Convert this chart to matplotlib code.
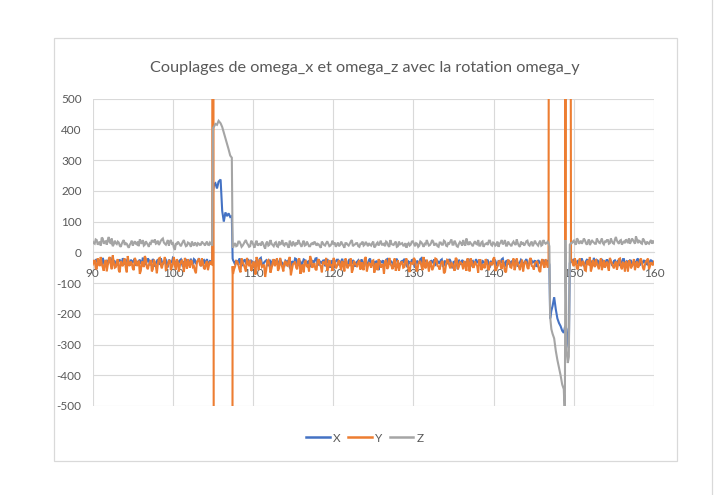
import numpy as np
import matplotlib
matplotlib.use("Agg")
import matplotlib.pyplot as plt
from matplotlib.lines import Line2D
from matplotlib.patches import Rectangle

plt.rcParams['font.family'] = ['Lato', 'DejaVu Sans']
plt.rcParams['axes.unicode_minus'] = False

# ---------------- data ----------------
title = "Couplages de omega_x et omega_z avec la rotation omega_y"
series_names = ["X", "Y", "Z"]
colors = ["#4472C4", "#ED7D31", "#A5A5A5"]

# baseline segments (time ranges); samples on a grid plus in-between samples (*_h)
seg_left = (90.0, 104.75)
seg_mid = (107.5, 146.75)
seg_right = (149.75, 160.0)

# X (omega_x)
x_left = [-28,-35,-22,-40,-30,-18,-45,-25,-33,-20,-38,-29,-42,-26,-31,-19,-36,-27,-44,-24,
          -32,-21,-39,-28,-34,-17,-41,-30,-25,-37,-22,-46,-29,-33,-20,-38,-27,-43,-24,-31,
          -18,-40,-26,-35,-23,-47,-30,-28,-36,-21,-39,-25,-32,-19,-44,-27,-34,-22,-37,-29]
x_left_h = [-33,-27,-36,-24,-41,-29,-31,-38,-22,-35,-27,-44,-30,-25,-39,-28,-33,-21,-37,-30,
            -26,-43,-31,-24,-38,-29,-35,-20,-42,-32,-27,-36,-23,-40,-30,-34,-25,-45,-28,-33,
            -21,-39,-30,-26,-37,-31,-24,-42,-29,-35,-22,-38,-27,-33,-40,-25,-31,-36,-28]
x_mid = [-25,-40,-30,-20,-45,-28,-35,-22,-38,-30,-50,-26,-33,-18,-42,-29,-36,-24,-47,-31,
         -27,-39,-21,-34,-44,-30,-25,-55,-32,-20,-37,-28,-43,-23,-35,-30,-48,-26,-31,-19,
         -40,-33,-27,-45,-22,-36,-29,-52,-30,-24,-38,-21,-34,-42,-28,-32,-25,-46,-30,-37,
         -23,-41,-29,-35,-20,-44,-31,-27,-58,-33,-26,-39,-22,-36,-30,-48,-25,-34,-40,-28,
         -21,-43,-30,-37,-24,-50,-29,-33,-19,-41,-27,-35,-45,-30,-23,-38,-32,-26,-47,-29,
         -36,-22,-40,-31,-27,-55,-34,-25,-39,-30,-21,-44,-28,-35,-33,-24,-42,-30,-37,-26,
         -49,-31,-23,-38,-29,-35,-20,-43,-27,-34,-40,-30,-25,-46,-32,-28,-36,-22,-41,-29,
         -33,-26,-45,-30,-38,-24,-35,-28]
x_mid_h = [-32,-26,-41,-29,-35,-23,-40,-31,-27,-44,-30,-36,-21,-38,-33,-26,-45,-30,-28,-39,
           -24,-35,-31,-42,-27,-33,-48,-29,-36,-22,-40,-30,-34,-25,-43,-28,-37,-32,-20,-41,
           -29,-35,-26,-39,-31,-50,-27,-33,-24,-42,-30,-36,-28,-45,-22,-38,-31,-34,-26,-40,
           -33,-29,-46,-25,-37,-30,-42,-35,-27,-31,-44,-24,-39,-28,-36,-32,-21,-43,-30,-35,
           -27,-48,-33,-25,-40,-30,-36,-22,-38,-31,-29,-45,-26,-34,-41,-28,-37,-23,-42,-30,
           -33,-27,-52,-31,-36,-24,-40,-29,-35,-26,-44,-30,-38,-22,-33,-41,-28,-36,-25,-39,
           -30,-34,-27,-45,-31,-23,-40,-29,-37,-32,-26,-43,-30,-35,-24,-41,-28,-33,-38,-27,
           -31,-44,-25,-36,-30,-40,-33,-27,-42,-29,-35,-22,-39,-31,-26,-37,-30]
x_right = [-30,-22,-40,-28,-35,-20,-45,-30,-25,-38,-32,-18,-42,-27,-36,-24,-48,-30,-33,-21,
           -40,-28,-35,-25,-44,-30,-22,-38,-31,-26,-45,-29,-34,-20,-41,-30,-27,-37,-23,-33,-28,-35]
x_right_h = [-26,-35,-31,-42,-27,-33,-38,-24,-36,-29,-44,-30,-25,-39,-32,-28,-41,-23,-35,-30,
             -37,-26,-43,-31,-34,-22,-40,-29,-36,-27,-38,-33,-24,-42,-30,-35,-28,-39,-31,-26,-34]

# Y (omega_y)
y_left = [-40,-25,-55,-30,-15,-48,-35,-62,-22,-40,-10,-50,-33,-58,-28,-45,-20,-65,-38,-30,
          -52,-18,-44,-27,-60,-35,-12,-48,-40,-25,-55,-32,-68,-20,-42,-36,-15,-50,-28,-58,
          -34,-45,-22,-62,-30,-40,-18,-53,-37,-25,-48,-60,-30,-20,-45,-35,-55,-28,-42,-38]
y_left_h = [-30,-52,-20,-45,-38,-60,-25,-42,-15,-55,-33,-48,-22,-65,-40,-28,-50,-12,-44,-36,
            -58,-26,-40,-70,-30,-48,-20,-55,-35,-62,-24,-45,-38,-18,-52,-30,-60,-40,-25,-47,
            -15,-56,-33,-42,-27,-64,-38,-22,-50,-30,-45,-68,-28,-40,-20,-52,-35,-58,-30]
y_mid = [-70,-45,-30,-55,-20,-40,-62,-35,-25,-50,-38,-15,-58,-30,-45,-80,-28,-40,-52,-22,
         -35,-60,-18,-48,-33,-42,-25,-75,-38,-30,-55,-20,-45,-65,-28,-40,-12,-50,-35,-58,
         -22,-46,-30,-38,-60,-25,-42,-18,-52,-34,-44,-28,-62,-30,-40,-20,-55,-36,-48,-25,
         -32,-58,-15,-45,-38,-28,-66,-35,-22,-50,-40,-30,-54,-18,-44,-36,-60,-26,-42,-32,
         -48,-20,-56,-34,-38,-25,-62,-30,-45,-15,-52,-40,-28,-58,-35,-22,-46,-38,-30,-64,
         -24,-42,-35,-50,-18,-55,-32,-40,-28,-60,-36,-20,-48,-30,-44,-25,-58,-38,-22,-52,
         -34,-42,-16,-56,-30,-45,-26,-62,-38,-28,-50,-20,-44,-35,-58,-24,-40,-32,-54,-18,
         -46,-36,-28,-60,-30,-42,-22,-50]
y_mid_h = [-55,-28,-40,-65,-32,-50,-18,-45,-60,-30,-72,-35,-22,-48,-40,-58,-25,-66,-34,-45,
           -20,-52,-38,-62,-28,-44,-15,-56,-36,-50,-24,-70,-40,-30,-48,-62,-22,-44,-55,-28,
           -40,-65,-35,-18,-50,-42,-60,-30,-46,-25,-58,-38,-20,-52,-44,-66,-28,-40,-32,-56,
           -48,-22,-62,-35,-50,-26,-44,-58,-30,-40,-70,-24,-48,-38,-55,-20,-45,-60,-32,-50,
           -28,-42,-64,-36,-18,-54,-40,-30,-58,-46,-24,-62,-35,-50,-20,-44,-56,-30,-68,-40,
           -26,-52,-38,-60,-22,-46,-34,-55,-42,-20,-62,-30,-48,-38,-66,-25,-44,-52,-30,-58,
           -36,-22,-60,-45,-28,-54,-40,-65,-24,-48,-34,-58,-20,-46,-38,-62,-30,-50,-26,-44,
           -56,-32,-40,-64,-22,-50,-36,-58,-28,-45,-18,-60,-38,-30,-52,-42,-34]
y_right = [-25,-45,-30,-55,-20,-40,-35,-60,-28,-15,-50,-38,-22,-45,-32,-58,-25,-40,-48,-18,
           -35,-52,-30,-42,-20,-55,-36,-28,-62,-30,-45,-22,-40,-50,-25,-35,-58,-30,-20,-45,-38,-30]
y_right_h = [-38,-20,-52,-35,-45,-28,-58,-30,-42,-62,-25,-48,-36,-55,-20,-40,-50,-30,-60,-28,
             -45,-38,-56,-22,-48,-34,-62,-40,-26,-52,-35,-58,-30,-44,-20,-50,-40,-25,-55,-32,-42]

# Z (omega_z)
z_left = [35,28,40,30,22,45,33,25,50,30,20,38,27,32,18,35,24,28,15,30,
          22,36,26,20,33,40,25,30,18,28,35,42,30,24,38,45,28,33,22,40,
          30,8,25,30,20,35,28,22,30,18,26,32,20,28,25,30,22,35,24,28]
z_left_h = [30,42,25,35,48,28,38,40,32,45,26,30,35,22,28,40,30,20,25,38,
            30,28,35,42,28,22,36,25,30,40,34,28,38,30,42,32,25,40,35,28,
            15,30,35,25,28,40,20,32,25,35,22,28,30,24,35,28,30,25,32]
z_mid = [15,30,22,35,18,28,40,25,20,32,15,38,27,22,30,12,35,25,28,20,
         33,18,26,40,22,30,15,28,35,20,25,32,18,38,24,28,20,30,35,22,
         26,15,30,22,36,20,28,25,18,32,24,28,15,30,22,35,20,26,30,18,
         28,22,34,20,25,30,16,28,22,38,25,20,32,18,28,24,35,20,26,30,
         22,15,30,25,36,20,28,22,32,18,26,30,24,40,22,28,18,32,25,35,
         20,28,42,25,30,18,34,22,28,45,24,30,20,36,26,22,32,18,28,24,
         38,22,30,25,18,32,26,40,22,28,20,35,24,30,18,28,22,36,25,30,
         20,38,26,32,22,40,28,35]
z_mid_h = [25,20,35,28,22,35,30,18,38,25,30,22,28,35,20,30,22,40,24,30,
           20,35,28,25,30,22,38,20,28,32,40,25,30,22,35,20,28,25,30,28,
           20,35,24,30,28,22,38,32,25,20,35,22,30,25,28,40,24,30,20,28,
           35,25,28,30,22,35,20,32,30,25,28,35,22,40,25,30,18,35,28,22,
           30,26,22,35,28,30,18,35,26,28,40,22,30,35,28,20,32,25,38,22,
           30,35,25,38,20,28,30,40,22,32,35,25,30,28,40,22,35,25,30,38,
           25,32,22,35,28,40,30,22,35,25,30,28,42,22,35,30,28,38,22,35,
           28,30,22,38,25,32,30,42,25,35,30,28,38,30,22,32,28]
z_right = [30,38,25,42,32,28,45,30,35,24,40,32,28,38,30,45,26,34,40,30,
           36,28,50,32,38,25,35,42,30,28,45,34,52,30,36,28,40,25,30,35,28,32]
z_right_h = [35,30,45,28,38,35,40,25,42,30,35,28,45,32,38,30,35,40,28,45,
             30,42,38,28,40,32,30,38,45,35,40,28,42,38,30,45,32,35,28,40,38]

# first event (around t = 105..107.5)
t_ev1 = [104.9, 105.0, 105.15, 105.3, 105.5, 105.7, 105.95, 106.15, 106.35, 106.55,
         106.75, 106.95, 107.15, 107.35, 107.45]
x_ev1 = [-30, 200, 222, 225, 208, 230, 237, 135, 100, 130, 118, 127, 115, 118, -20]
y_ev1 = [-40, 3000, -3000, -3000, -3000, -3000, -3000, -3000, -3000, -3000,
         -3000, -3000, -3000, -3000, -45]
z_ev1 = [22, 405, 410, 418, 415, 428, 420, 408, 390, 372, 355, 335, 315, 308, 20]

# second event (around t = 147..149.7)
t_ev2 = [146.85, 146.95, 147.05, 147.2, 147.35, 147.55, 147.75, 147.95, 148.15, 148.35,
         148.55, 148.75, 148.88, 148.95, 149.1, 149.25, 149.38, 149.5, 149.65]
x_ev2 = [-30, -40, -215, -190, -175, -146, -185, -215, -230, -240,
         -255, -262, -245, -240, -250, -290, -310, -35, -30]
y_ev2 = [-30, 3000, 3000, 3000, 3000, 3000, 3000, 3000, 3000, 3000,
         3000, 3000, 3000, 40, 3000, 3000, 3000, 3000, -25]
z_ev2 = [30, 20, -210, -250, -265, -280, -320, -350, -375, -400,
         -430, -445, -540, 40, -320, -360, -340, 25, 30]

y_ticks = [500, 400, 300, 200, 100, 0, -100, -200, -300, -400, -500]
x_ticks = [90, 100, 110, 120, 130, 140, 150, 160]


def segment(seg, a, b):
    ta = np.linspace(seg[0], seg[1], len(a))
    step = ta[1] - ta[0]
    n = min(len(b), len(a) - 1)
    tb = ta[:n] + step / 2
    t = np.concatenate([ta, tb])
    v = np.concatenate([np.asarray(a, float), np.asarray(b[:n], float)])
    o = np.argsort(t, kind="stable")
    return t[o], v[o]


def build(left, left_h, ev1_v, mid, mid_h, ev2_v, right, right_h):
    parts = [segment(seg_left, left, left_h),
             (np.asarray(t_ev1), np.asarray(ev1_v, float)),
             segment(seg_mid, mid, mid_h),
             (np.asarray(t_ev2), np.asarray(ev2_v, float)),
             segment(seg_right, right, right_h)]
    return (np.concatenate([p[0] for p in parts]),
            np.concatenate([p[1] for p in parts]))


data = [
    build(x_left, x_left_h, x_ev1, x_mid, x_mid_h, x_ev2, x_right, x_right_h),
    build(y_left, y_left_h, y_ev1, y_mid, y_mid_h, y_ev2, y_right, y_right_h),
    build(z_left, z_left_h, z_ev1, z_mid, z_mid_h, z_ev2, z_right, z_right_h),
]

# ---------------- figure ----------------
W, H = 720, 495
fig = plt.figure(figsize=(7.2, 4.95), dpi=100)
fig.patch.set_facecolor("white")

# chart border
fig.add_artist(Rectangle((54.3 / W, 1 - 461 / H), (676.7 - 54.3) / W, (461 - 38.3) / H,
                         transform=fig.transFigure, fill=False, edgecolor="#d9d9d9", lw=0.9))
fig.add_artist(Line2D([711.5 / W, 711.5 / W], [0, 1], transform=fig.transFigure,
                      color="#d9d9d9", lw=0.9))

ax = fig.add_axes([92.7 / W, 1 - 406 / H, (654 - 92.7) / W, (406 - 98.7) / H])
ax.set_xlim(90, 160)
ax.set_ylim(-500, 500)

for (t, v), name, c, z in zip(data, series_names, colors, [3, 4, 5]):
    ax.plot(t, v, color=c, lw=1.5, label=name, zorder=z, solid_joinstyle="miter")

ax.set_yticks(y_ticks)
ax.set_yticklabels([str(v) for v in y_ticks])
ax.set_xticks(x_ticks)
ax.set_xticklabels([str(v) for v in x_ticks])
ax.grid(True, color="#d9d9d9", lw=0.8, zorder=0)
ax.set_axisbelow(True)
for s in ["top", "right", "left"]:
    ax.spines[s].set_visible(False)
ax.spines["bottom"].set_position(("data", 0))
ax.spines["bottom"].set_color("#d9d9d9")
ax.spines["bottom"].set_linewidth(0.8)
ax.tick_params(axis="both", length=0, labelsize=8.5, labelcolor="#595959")
ax.tick_params(axis="x", pad=11)
ax.tick_params(axis="y", pad=8)

fig.text(365 / W, 1 - 68 / H, title, ha="center", va="center", fontsize=11.7, color="#595959")

handles = [Line2D([], [], color=c, lw=1.8) for c in colors]
fig.legend(handles, series_names, loc="center", bbox_to_anchor=(365 / W, 1 - 438 / H),
           ncol=3, frameon=False, fontsize=8.5, handlelength=2.0, handletextpad=0.3,
           columnspacing=0.6, labelcolor="#595959")

fig.savefig("out.png", dpi=100, facecolor="white")
